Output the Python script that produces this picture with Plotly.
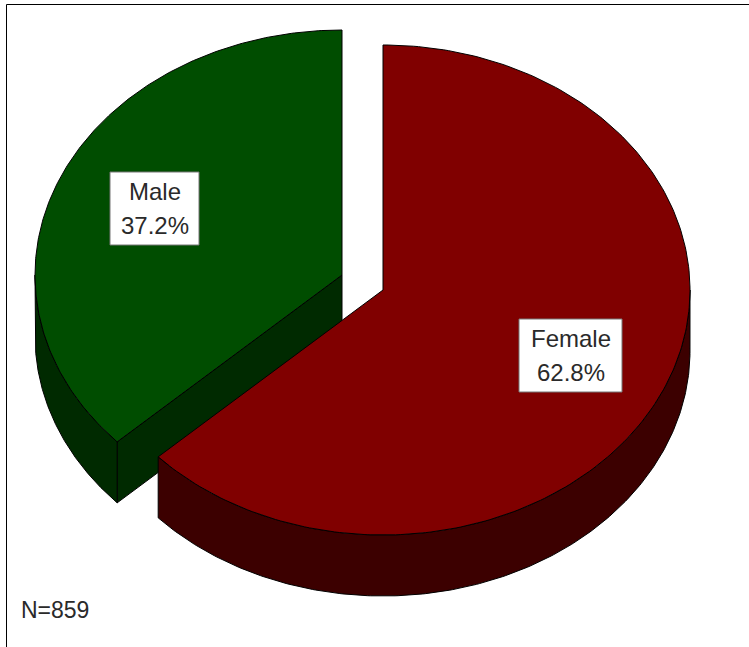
import numpy as np
import plotly.graph_objects as go

categories = ["Male", "Female"]
shares = [37.2, 62.8]
pct_labels = ["37.2%", "62.8%"]
sample_note = "N=859"
top_colors = ["#004d00", "#800000"]
side_colors = ["#002a00", "#3c0000"]

W, H = 749, 647
RX, RY, DEPTH = 307, 245, 61
CENTERS = {"Male": (342, 275), "Female": (383, 290)}
BOXES = {"Male": (110, 172, 199, 245), "Female": (519, 319, 622, 392)}
FS = 24
INK = "#2a2a2a"
# The tilted view of the original pushes the shared edge about 1 degree round the ellipse
VIEW_SKEW = np.radians(1.0)

female_sweep = shares[1] / 100 * 2 * np.pi + VIEW_SKEW
male_sweep = shares[0] / 100 * 2 * np.pi - VIEW_SKEW


def arc(cx, cy, a0, a1, dy=0, n=240):
    """Angles clockwise from 12 o'clock."""
    t = np.linspace(a0, a1, n)
    return cx + RX * np.sin(t), cy - RY * np.cos(t) + dy


def poly(fig, x, y, color):
    fig.add_trace(go.Scatter(
        x=np.append(x, x[0]), y=np.append(y, y[0]), mode="lines", fill="toself",
        fillcolor=color, line=dict(color="#000000", width=1),
        hoverinfo="skip", showlegend=False))


def draw_slice(fig, name, a0, a1, top, side):
    cx, cy = CENTERS[name]
    # radial wall that faces the viewer (male slice only)
    if name == "Male":
        ex, ey = arc(cx, cy, a0, a0, n=1)
        poly(fig, np.array([cx, ex[0], ex[0], cx]),
             np.array([cy, ey[0], ey[0] + DEPTH, cy + DEPTH]), side)
    # outer rim, visible on the lower half of the ellipse only
    lo, hi = max(a0, np.pi / 2), min(a1, 3 * np.pi / 2)
    xa, ya = arc(cx, cy, lo, hi)
    poly(fig, np.concatenate([xa, xa[::-1]]),
         np.concatenate([ya, ya[::-1] + DEPTH]), side)
    # top face
    xt, yt = arc(cx, cy, a0, a1)
    poly(fig, np.concatenate([[cx], xt]), np.concatenate([[cy], yt]), top)


fig = go.Figure()
# Male runs counter-clockwise from 12 o'clock, Female clockwise from it
draw_slice(fig, "Male", 2 * np.pi - male_sweep, 2 * np.pi, top_colors[0], side_colors[0])
draw_slice(fig, "Female", 0, female_sweep, top_colors[1], side_colors[1])

shapes = [dict(type="rect", xref="x", yref="y", x0=6.5, y0=4.5, x1=760, y1=660,
               line=dict(color="#000000", width=1), fillcolor="rgba(0,0,0,0)", layer="below")]
annotations = []
for cat, pct in zip(categories, pct_labels):
    x0, y0, x1, y1 = BOXES[cat]
    shapes.append(dict(type="rect", xref="x", yref="y", x0=x0, y0=y0, x1=x1, y1=y1,
                       fillcolor="#ffffff", line=dict(color="#777777", width=1), layer="above"))
    xc = (x0 + x1) / 2
    for text, yy in ((cat, y0 + 19.5), (pct, y0 + 53)):
        annotations.append(dict(x=xc, y=yy, xref="x", yref="y", text=text, showarrow=False,
                                xanchor="center", yanchor="middle",
                                font=dict(family="Liberation Sans", size=FS, color=INK)))
annotations.append(dict(x=18.5, y=610, xref="x", yref="y", text=sample_note, showarrow=False,
                        xanchor="left", yanchor="middle",
                        font=dict(family="Liberation Sans", size=23, color=INK)))

fig.update_layout(
    width=W, height=H, margin=dict(l=0, r=0, t=0, b=0),
    paper_bgcolor="#ffffff", plot_bgcolor="#ffffff", showlegend=False,
    xaxis=dict(range=[0, W], visible=False, fixedrange=True),
    yaxis=dict(range=[H, 0], visible=False, fixedrange=True),
    shapes=shapes, annotations=annotations,
)
fig.write_html("out.html", config=dict(displayModeBar=False),
               post_script="document.body.style.margin='0';document.body.style.overflow='hidden';")
